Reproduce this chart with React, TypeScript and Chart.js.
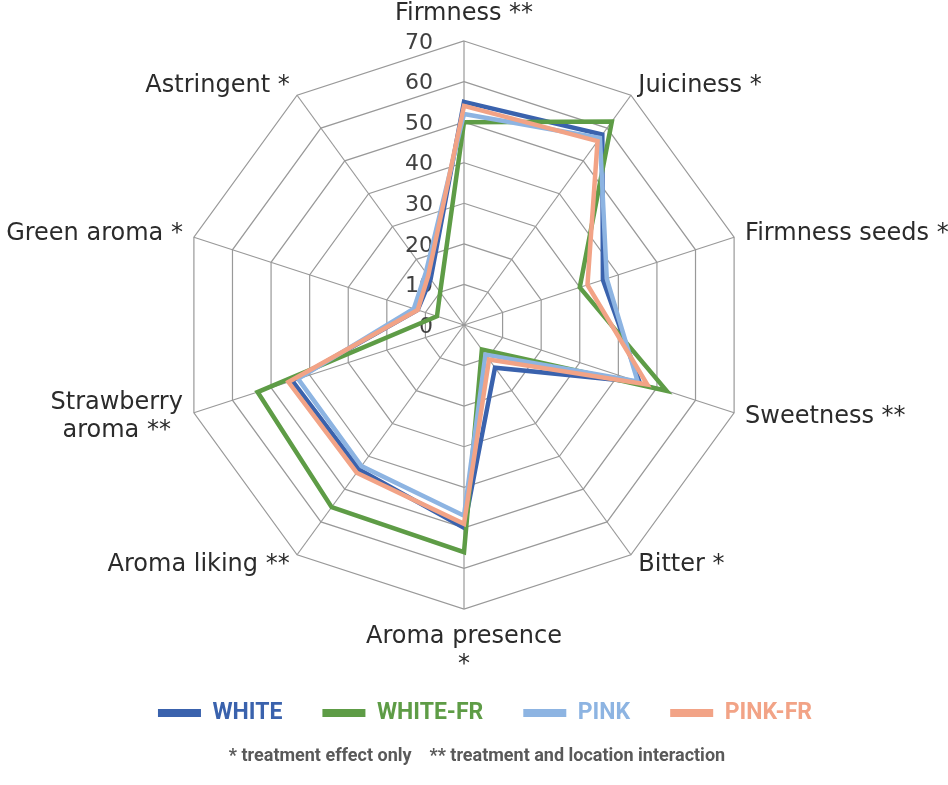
import React, { useEffect, useRef } from 'react';
import { Chart, registerables } from 'chart.js';

Chart.register(...registerables);

const categories: (string | string[])[] = [
  'Firmness **',
  'Juiciness *',
  'Firmness seeds *',
  'Sweetness **',
  'Bitter *',
  ['Aroma presence', '*'],
  'Aroma liking **',
  ['Strawberry', 'aroma **'],
  'Green aroma *',
  'Astringent *',
];

const seriesNames = ['WHITE', 'WHITE-FR', 'PINK', 'PINK-FR'];
const whiteValues = [55, 58, 36, 45.5, 13, 50, 44, 44.5, 12, 14];
const whiteFrValues = [50, 62, 30, 52.5, 7.5, 56, 55.5, 53.5, 7, 10];
const pinkValues = [52, 57, 37, 45, 9, 47, 43, 43, 13, 16];
const pinkFrValues = [54, 56, 32, 47.5, 10.5, 49, 45, 45.5, 12, 15];
const seriesColors = ['#3A62AD', '#5E9C46', '#8DB4E2', '#F2A386'];
const tickValues = [0, 10, 20, 30, 40, 50, 60, 70];
const footnote = '* treatment effect only    ** treatment and location interaction';

const boxShiftPlugin = {
  id: 'boxShift',
  afterLayout(chart: any) {
    const lg = chart.legend;
    if (lg) {
      lg.left += 21;
      lg.right += 21;
    }
    const tt = chart.titleBlock;
    if (tt) {
      tt.left += 13;
      tt.right += 13;
    }
  },
};

const labelPlugin = {
  id: 'customRadarText',
  beforeDatasetsDraw(chart: any) {
    const scale = chart.scales.r;
    const ctx = chart.ctx;
    ctx.save();
    ctx.font = '22px "DejaVu Sans"';
    ctx.fillStyle = '#404040';
    ctx.textAlign = 'right';
    ctx.textBaseline = 'middle';
    tickValues.forEach((v) => {
      const d = scale.getDistanceFromCenterForValue(v);
      ctx.fillText(String(v), scale.xCenter - 31, scale.yCenter - d + 2);
    });
    ctx.restore();
  },
  afterDraw(chart: any) {
    const scale = chart.scales.r;
    const ctx = chart.ctx;
    const n = categories.length;
    const R = scale.drawingArea;
    const lh = 28;
    ctx.save();
    ctx.font = '24px "DejaVu Sans"';
    ctx.fillStyle = '#2B2B2B';
    ctx.textBaseline = 'middle';
    categories.forEach((lab, i) => {
      const lines = Array.isArray(lab) ? lab : [lab];
      const v = scale.getPointPosition(i, R);
      const rad = ((360 / n) * i * Math.PI) / 180;
      const s = Math.sin(rad);
      const c = Math.cos(rad);
      const blockH = (lines.length - 1) * lh;
      if (Math.abs(s) < 0.01) {
        ctx.textAlign = 'center';
        const firstY = c > 0 ? v.y - 27 - blockH : v.y + 28;
        lines.forEach((t, k) => ctx.fillText(t, v.x, firstY + k * lh));
      } else {
        const off = 1.5 + 10 * Math.abs(s);
        const centerY = v.y - 12 * c;
        const firstY = centerY - blockH / 2;
        const maxW = Math.max(...lines.map((t) => ctx.measureText(t).width));
        ctx.textAlign = 'center';
        const cx = s > 0 ? v.x + off + maxW / 2 : v.x - off - maxW / 2;
        lines.forEach((t, k) => ctx.fillText(t, cx, firstY + k * lh));
      }
    });
    ctx.restore();
  },
};

export default function App() {
  const ref = useRef<HTMLCanvasElement>(null);
  useEffect(() => {
    if (!ref.current) return;
    const values = [whiteValues, whiteFrValues, pinkValues, pinkFrValues];
    const chart = new Chart(ref.current, {
      type: 'radar',
      data: {
        labels: categories.map((c) => (Array.isArray(c) ? c.join(' ') : c)),
        datasets: seriesNames.map((name, i) => ({
          label: name,
          data: values[i],
          borderColor: seriesColors[i],
          backgroundColor: seriesColors[i],
          borderWidth: 4.5,
          pointRadius: 0,
          pointHoverRadius: 0,
          fill: false,
          tension: 0,
          order: seriesNames.length - 1 - i,
        })),
      },
      options: {
        responsive: false,
        animation: false,
        devicePixelRatio: 1,
        layout: { padding: { top: 41, left: 0, right: 20, bottom: 0 } },
        scales: {
          r: {
            min: 0,
            max: 70,
            beginAtZero: true,
            ticks: { display: false, stepSize: 10 },
            pointLabels: { display: false },
            grid: { color: '#999999', lineWidth: 1.2, circular: false },
            angleLines: { color: '#999999', lineWidth: 1.2 },
          },
        },
        plugins: {
          tooltip: { enabled: false },
          legend: {
            position: 'bottom',
            title: { display: true, text: '', font: { size: 10 }, padding: { top: 40, bottom: 0 } },
            labels: {
              font: { family: 'Roboto', weight: 'bold', size: 23 },
              boxWidth: 43,
              boxHeight: 8,
              padding: 40,
              generateLabels: () =>
                seriesNames.map((name, i) => ({
                  text: name,
                  fillStyle: seriesColors[i],
                  strokeStyle: seriesColors[i],
                  lineWidth: 0,
                  fontColor: seriesColors[i],
                  hidden: false,
                  datasetIndex: i,
                })),
            },
          },
          title: {
            display: true,
            position: 'bottom',
            text: footnote,
            color: '#595959',
            font: { family: 'Roboto', weight: 'bold', size: 18 },
            padding: { top: 11, bottom: 18 },
          },
        },
      },
      plugins: [boxShiftPlugin, labelPlugin],
    });
    return () => chart.destroy();
  }, []);
  return (
    <div style={{ position: 'absolute', left: 0, top: 0, width: 948, height: 785, background: '#fff' }}>
      <canvas ref={ref} width={948} height={785} style={{ width: 948, height: 785 }} />
    </div>
  );
}
